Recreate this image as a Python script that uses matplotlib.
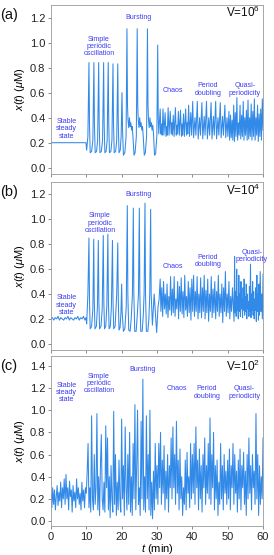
import numpy as np
import matplotlib
matplotlib.use("Agg")
import matplotlib.pyplot as plt

plt.rcParams['font.family'] = ['Liberation Sans', 'DejaVu Sans']
plt.rcParams['mathtext.fontset'] = 'custom'
plt.rcParams['mathtext.it'] = 'Liberation Sans:italic'
plt.rcParams['mathtext.rm'] = 'Liberation Sans'

# ---------------- data ----------------
regimes = ["Stable\nsteady\nstate", "Simple\nperiodic\noscillation", "Bursting",
           "Chaos", "Period\ndoubling", "Quasi-\nperiodicity"]
volumes = ["V=10$^6$", "V=10$^4$", "V=10$^2$"]
panel_labels = ["(a)", "(b)", "(c)"]
x_ticks = [0, 10, 20, 30, 40, 50, 60]

# panel (a): V=10^6 (keypoints)
t_a = [0, 9.9, 10.1, 10.45,
       10.75, 10.9, 11.1, 11.5, 11.85,
       12.15, 12.3, 12.5, 12.9, 13.2,
       13.5, 13.65, 13.85, 14.25, 14.6,
       14.9, 15.05, 15.25, 15.6, 15.9,
       16.2, 16.35, 16.55, 16.95, 17.25,
       17.55, 17.7, 17.9, 18.3, 18.6,
       18.9, 19.05, 19.25, 19.6, 19.85,
       20.1, 20.25, 20.5, 20.9, 21.25,
       21.5, 21.65, 21.8, 22.0, 22.2, 22.4, 22.6, 22.8, 23.0, 23.2, 23.5, 23.8, 24.15,
       24.4, 24.55, 24.7, 24.9, 25.1, 25.3, 25.5, 25.7, 25.9, 26.1, 26.4, 26.7, 27.05,
       27.3, 27.45, 27.6, 27.8, 28.0, 28.2, 28.4, 28.6, 28.8, 29.0, 29.3, 29.6, 29.95,
       30.2, 30.35, 30.5,
       30.9, 31.1, 31.3, 31.45, 31.7, 31.95, 32.3, 32.55, 32.75, 32.9, 33.15, 33.4,
       33.75, 34.0, 34.2, 34.35, 34.6, 34.85, 35.2, 35.45, 35.65, 35.8, 36.05, 36.3,
       36.65, 36.9, 37.1, 37.25, 37.5, 37.75, 38.1, 38.35, 38.55, 38.7, 38.95, 39.2,
       39.55, 39.8,
       40.1, 40.35, 40.75, 41.0, 41.4, 41.65, 42.05, 42.3, 42.7, 42.95, 43.35, 43.6,
       44.0, 44.25, 44.65, 44.9, 45.3, 45.55, 45.95, 46.2, 46.6, 46.85, 47.25, 47.5,
       47.9, 48.15, 48.55, 48.8, 49.2, 49.45, 49.8, 50.05,
       50.35, 50.55, 50.8, 51.0, 51.25, 51.45, 51.7, 51.9, 52.15, 52.35, 52.6, 52.8,
       53.05, 53.25, 53.5, 53.7, 53.95, 54.15, 54.4, 54.6, 54.85, 55.05, 55.3, 55.5,
       55.75, 55.95, 56.2, 56.4, 56.65, 56.85, 57.1, 57.3, 57.55, 57.75, 58.0, 58.2,
       58.45, 58.65, 58.9, 59.1, 59.35, 59.55, 59.8, 60.0]
x_a = [0.2, 0.2, 0.14, 0.25,
       0.84, 0.35, 0.12, 0.13, 0.22,
       0.84, 0.35, 0.12, 0.13, 0.22,
       0.84, 0.35, 0.12, 0.13, 0.22,
       0.84, 0.35, 0.12, 0.13, 0.22,
       0.84, 0.35, 0.12, 0.13, 0.22,
       0.83, 0.35, 0.12, 0.13, 0.22,
       0.83, 0.35, 0.12, 0.14, 0.25,
       0.60, 0.30, 0.10, 0.12, 0.25,
       1.11, 0.50, 0.38, 0.32, 0.40, 0.33, 0.36, 0.30, 0.33, 0.25, 0.10, 0.12, 0.25,
       1.11, 0.50, 0.38, 0.32, 0.40, 0.33, 0.36, 0.30, 0.33, 0.25, 0.10, 0.12, 0.25,
       1.11, 0.50, 0.38, 0.32, 0.40, 0.33, 0.36, 0.30, 0.34, 0.28, 0.10, 0.11, 0.25,
       0.98, 0.40, 0.27,
       0.47, 0.27, 0.35, 0.26, 0.47, 0.26, 0.44, 0.25, 0.33, 0.26, 0.48, 0.26,
       0.45, 0.27, 0.36, 0.26, 0.42, 0.25, 0.48, 0.26, 0.34, 0.27, 0.45, 0.26,
       0.46, 0.25, 0.35, 0.26, 0.43, 0.25, 0.47, 0.26, 0.36, 0.27, 0.50, 0.25,
       0.44, 0.26,
       0.53, 0.24, 0.40, 0.26, 0.53, 0.23, 0.40, 0.26, 0.52, 0.23, 0.41, 0.26,
       0.53, 0.23, 0.40, 0.26, 0.52, 0.23, 0.41, 0.26, 0.53, 0.23, 0.40, 0.26,
       0.52, 0.24, 0.41, 0.26, 0.50, 0.24, 0.40, 0.25,
       0.45, 0.22, 0.42, 0.24, 0.38, 0.22, 0.50, 0.21, 0.44, 0.25, 0.56, 0.22,
       0.36, 0.26, 0.50, 0.23, 0.42, 0.25, 0.53, 0.22, 0.40, 0.26, 0.46, 0.22,
       0.54, 0.23, 0.40, 0.25, 0.51, 0.22, 0.45, 0.25, 0.55, 0.22, 0.40, 0.26,
       0.50, 0.21, 0.43, 0.25, 0.47, 0.22, 0.55, 0.30]

# panel (b): V=10^4
t_b = [0, 0.4, 0.8, 1.2, 1.6, 2.0, 2.4, 2.8, 3.2, 3.6, 4.0, 4.4, 4.8, 5.2, 5.6, 6.0,
       6.4, 6.8, 7.2, 7.6, 8.0, 8.4, 8.8, 9.2, 9.6, 9.9, 10.1, 10.45,
       10.75, 10.9, 11.1, 11.5, 11.85,
       12.1, 12.25, 12.45, 12.85, 13.15,
       13.4, 13.55, 13.75, 14.15, 14.5,
       14.8, 14.95, 15.15, 15.5, 15.8,
       16.1, 16.25, 16.45, 16.8, 17.1,
       17.4, 17.55, 17.75, 18.15, 18.6,
       18.9, 19.05, 19.25, 19.55, 19.8,
       20.0, 20.15, 20.5, 20.9, 21.3,
       21.6, 21.75, 22.0, 22.4, 22.7, 23.05,
       23.3, 23.45, 23.7, 24.1, 24.4, 24.75,
       25.0, 25.15, 25.4, 25.8, 26.1, 26.35,
       26.6, 26.75, 27.0, 27.4, 27.7, 27.95,
       28.2, 28.35, 28.7, 29.2, 29.9, 30.3, 30.6,
       30.9, 31.1, 31.35, 31.6, 31.85, 32.1, 32.35, 32.6, 32.85, 33.1, 33.35, 33.6,
       33.85, 34.1, 34.35, 34.6, 34.85, 35.1, 35.35, 35.6, 35.85, 36.1, 36.35, 36.6,
       36.85, 37.1, 37.35, 37.6, 37.85, 38.1, 38.35, 38.6, 38.85, 39.1, 39.35, 39.6,
       39.85, 40.1, 40.35, 40.6, 40.85, 41.1, 41.35, 41.6, 41.85, 42.1, 42.35, 42.6,
       42.85, 43.1, 43.35, 43.6, 43.85, 44.1, 44.35, 44.6, 44.85, 45.1, 45.35, 45.6,
       45.85, 46.1, 46.35, 46.6, 46.85, 47.1, 47.35, 47.6, 47.85, 48.1, 48.35, 48.6,
       48.85, 49.1, 49.35, 49.6, 49.85, 50.1, 50.35, 50.6, 50.85, 51.1, 51.35, 51.6,
       51.8, 51.95, 52.1, 52.25, 52.4, 52.55, 52.7, 52.85, 53.0, 53.15, 53.3, 53.45,
       53.6, 53.75, 53.9, 54.05, 54.2, 54.35, 54.5, 54.65, 54.8, 54.95, 55.1, 55.25,
       55.4, 55.55, 55.7, 55.85, 56.0, 56.15, 56.3, 56.45, 56.6, 56.75, 56.9, 57.05,
       57.2, 57.35, 57.5, 57.65, 57.8, 57.95, 58.1, 58.25, 58.4, 58.55, 58.7, 58.85,
       59.0, 59.2, 59.4, 59.6, 59.8, 60.0]
x_b = [0.20, 0.21, 0.19, 0.21, 0.20, 0.22, 0.19, 0.21, 0.20, 0.19, 0.21, 0.20, 0.22, 0.19, 0.21, 0.20,
       0.19, 0.21, 0.20, 0.22, 0.19, 0.21, 0.20, 0.22, 0.19, 0.21, 0.16, 0.40,
       0.85, 0.35, 0.12, 0.14, 0.28,
       0.84, 0.35, 0.12, 0.14, 0.30,
       0.83, 0.35, 0.12, 0.14, 0.28,
       0.87, 0.35, 0.12, 0.14, 0.30,
       0.88, 0.35, 0.12, 0.14, 0.30,
       0.83, 0.35, 0.12, 0.14, 0.40,
       0.81, 0.35, 0.11, 0.13, 0.25,
       0.48, 0.25, 0.10, 0.12, 0.30,
       1.11, 0.40, 0.11, 0.10, 0.20, 0.40,
       1.09, 0.40, 0.10, 0.10, 0.22, 0.40,
       1.09, 0.40, 0.10, 0.10, 0.22, 0.40,
       1.13, 0.40, 0.10, 0.10, 0.20, 0.40,
       1.08, 0.40, 0.15, 0.40, 0.09, 0.30, 0.36,
       0.52, 0.26, 0.45, 0.22, 0.50, 0.28, 0.40, 0.24, 0.48, 0.21, 0.38, 0.27,
       0.54, 0.23, 0.44, 0.25, 0.54, 0.22, 0.36, 0.28, 0.50, 0.20, 0.46, 0.26,
       0.53, 0.24, 0.42, 0.21, 0.55, 0.27, 0.38, 0.22, 0.50, 0.25, 0.45, 0.19,
       0.52, 0.26, 0.55, 0.22, 0.42, 0.26, 0.54, 0.20, 0.40, 0.25, 0.53, 0.21,
       0.45, 0.26, 0.55, 0.20, 0.43, 0.25, 0.52, 0.18, 0.40, 0.26, 0.54, 0.21,
       0.44, 0.25, 0.50, 0.20, 0.42, 0.26, 0.55, 0.22, 0.40, 0.25, 0.48, 0.17,
       0.45, 0.26, 0.58, 0.22, 0.40, 0.25, 0.50, 0.20, 0.38, 0.26, 0.45, 0.30,
       0.18, 0.70, 0.25, 0.42, 0.22, 0.60, 0.27, 0.38, 0.20, 0.55, 0.26, 0.40,
       0.22, 0.50, 0.28, 0.36, 0.21, 0.45, 0.27, 0.52, 0.23, 0.38, 0.26, 0.48,
       0.20, 0.40, 0.28, 0.34, 0.22, 0.46, 0.26, 0.64, 0.21, 0.40, 0.27, 0.50,
       0.23, 0.42, 0.20, 0.36, 0.27, 0.45, 0.18, 0.55, 0.26, 0.40, 0.19, 0.48,
       0.23, 0.58, 0.26, 0.40, 0.20, 0.56]

# panel (c): V=10^2, sampled every 0.25 min
x_c = [0.25, 0.12, 0.30, 0.15, 0.28, 0.10, 0.22, 0.32, 0.14, 0.26, 0.18, 0.35, 0.12, 0.30, 0.20, 0.38,
       0.15, 0.42, 0.20, 0.30, 0.10, 0.36, 0.22, 0.28, 0.08, 0.32, 0.18, 0.26, 0.12, 0.38, 0.20, 0.30,
       0.15, 0.25, 0.10, 0.35, 0.18, 0.28, 0.12, 0.30,
       0.25, 0.45, 0.70, 0.12, 0.30, 0.08, 0.95, 0.20, 0.10, 0.60, 0.15, 0.30, 0.97, 0.10, 0.40, 0.05,
       0.50, 0.78, 0.20, 0.10, 0.35, 0.08, 0.86, 0.30, 0.75, 0.10, 0.40, 0.03, 0.50, 0.20, 0.08, 0.99,
       0.15, 0.60, 0.05, 0.35, 0.10, 0.55, 0.20, 0.08,
       0.92, 0.20, 0.50, 0.05, 0.85, 0.30, 0.10, 0.60, 0.15, 0.80, 0.08, 0.40, 0.05, 0.70, 0.20, 1.05,
       0.10, 0.50, 1.00, 0.15, 0.30, 0.05, 0.90, 0.20, 1.28, 0.10, 0.40, 0.08, 0.95, 0.20, 0.60, 0.10,
       1.00, 0.05, 0.35, 0.02, 0.45, 0.10, 0.70, 0.20,
       0.50, 0.15, 0.70, 0.30, 0.80, 0.15, 0.55, 0.25, 0.68, 0.10, 0.45, 0.20, 0.60, 0.08, 0.50, 0.30,
       0.75, 0.20, 0.85, 0.30, 0.60, 0.15, 0.90, 0.25, 0.55, 0.10, 0.65, 0.20, 0.40, 0.05, 0.30, 0.15,
       0.55, 0.10, 0.62, 0.25, 0.40, 0.12, 0.70, 0.20,
       0.60, 0.25, 0.70, 0.15, 0.85, 0.30, 0.55, 0.10, 0.65, 0.20, 0.50, 0.08, 0.60, 0.30, 0.75, 0.15,
       0.50, 0.25, 0.70, 0.20, 0.93, 0.15, 0.60, 0.30, 0.80, 0.10, 0.50, 0.20, 0.55, 0.05, 0.35, 0.15,
       0.70, 0.20, 0.50, 0.10, 0.60, 0.25, 0.45, 0.15,
       0.55, 0.20, 0.65, 0.10, 0.50, 0.30, 0.70, 0.15, 0.60, 0.25, 0.45, 0.08, 0.55, 0.20, 0.65, 0.10,
       0.50, 0.30, 0.62, 0.15, 0.45, 0.05, 0.60, 0.20, 0.75, 0.25, 0.50, 0.10, 0.60, 0.30, 0.45, 0.15,
       0.97, 0.20, 0.60, 0.05, 0.50, 0.15, 0.40, 0.20, 0.75]
t_c = np.linspace(0, 60, len(x_c))

series = [(t_a, x_a), (t_b, x_b), (t_c, x_c)]

# ---------------- style / layout ----------------
line_color = '#3189e8'
text_color = '#3d3df2'
spine_color = '#9a9a9a'

ylims = [(-0.05, 1.3), (-0.05, 1.3), (-0.045, 1.49)]
yticks = [[0.0, 0.2, 0.4, 0.6, 0.8, 1.0, 1.2],
          [0.0, 0.2, 0.4, 0.6, 0.8, 1.0, 1.2],
          [0.0, 0.2, 0.4, 0.6, 0.8, 1.0, 1.2, 1.4]]
boxes = [[0.186, 0.6865, 0.774, 0.3045],
         [0.186, 0.3694, 0.774, 0.3027],
         [0.186, 0.0523, 0.774, 0.3063]]

# annotation positions (t, y) per panel, one per regime
ann_pos = [
    [(4.4, 0.31), (13.6, 0.97), (24.9, 1.20), (34.5, 0.62), (44.4, 0.625), (54.9, 0.625)],
    [(4.4, 0.31), (13.9, 0.97), (24.9, 1.20), (34.5, 0.62), (44.4, 0.665), (56.8, 0.705)],
    [(4.4, 1.16), (13.6, 1.24), (25.9, 1.37), (35.6, 1.20), (44.1, 1.16), (54.7, 1.16)],
]
vol_y = [1.24, 1.23, 1.40]

fig = plt.figure(figsize=(2.74, 5.55), dpi=100)
for i, (t, x) in enumerate(series):
    ax = fig.add_axes(boxes[i])
    ax.plot(t, x, color=line_color, lw=0.75)
    ax.set_xlim(0, 60)
    ax.set_ylim(*ylims[i])
    ax.set_yticks(yticks[i])
    ax.set_yticklabels([f"{v:.1f}" for v in yticks[i]], fontsize=8)
    ax.set_xticks(x_ticks)
    if i < 2:
        ax.set_xticklabels([])
    else:
        ax.set_xticklabels([str(v) for v in x_ticks], fontsize=8)
        ax.set_xlabel(r'$t$ (min)', fontsize=8, labelpad=0.5)
    ax.set_ylabel(r'$x(t)$ ($\mu$M)', fontsize=8, labelpad=2)
    for s in ax.spines.values():
        s.set_color(spine_color)
        s.set_linewidth(0.6)
    ax.tick_params(axis='both', direction='out', length=2.5, width=0.6,
                   color='#777777', pad=1.5, labelcolor='#222222')
    for (tx, ty), lab in zip(ann_pos[i], regimes):
        ax.text(tx, ty, lab, color=text_color, fontsize=5.1, ha='center', va='center',
                linespacing=1.05)
    ax.text(59.2, vol_y[i], volumes[i], fontsize=8.5, ha='right', va='center', color='#111111')
    fig.text(0.0, boxes[i][1] + boxes[i][3] - 0.018, panel_labels[i], fontsize=10.5,
             ha='left', va='center', color='#111111')

fig.savefig('out.png', dpi=100)
